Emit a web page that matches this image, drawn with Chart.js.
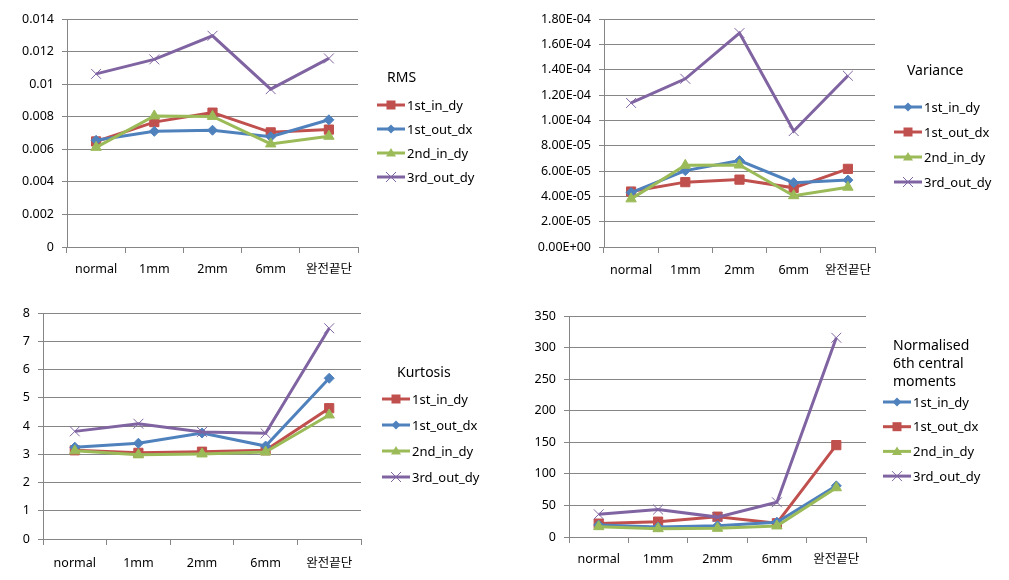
<!DOCTYPE html>
<html>
<head>
<meta charset="utf-8">
<script src="https://cdn.jsdelivr.net/npm/chart.js@4.4.1/dist/chart.umd.min.js"></script>
<style>
  body { margin: 0; background: #fff; }
  #wrap { position: relative; width: 1009px; height: 580px; }
  .box { position: absolute; }
</style>
</head>
<body>
<div id="wrap">
  <div class="box" style="left:0;top:0;width:500px;height:290px"><canvas id="c1"></canvas></div>
  <div class="box" style="left:500px;top:0;width:509px;height:290px"><canvas id="c2"></canvas></div>
  <div class="box" style="left:0;top:290px;width:500px;height:290px"><canvas id="c3"></canvas></div>
  <div class="box" style="left:500px;top:290px;width:509px;height:290px"><canvas id="c4"></canvas></div>
</div>
<script>
const categories = ['normal', '1mm', '2mm', '6mm', '완전끝단'];
const seriesNames = ['1st_in_dy', '1st_out_dx', '2nd_in_dy', '3rd_out_dy'];

// RMS
const rms1stInDy  = [0.00648, 0.00767, 0.00825, 0.00704, 0.00721];
const rms1stOutDx = [0.00655, 0.00710, 0.00717, 0.00677, 0.00781];
const rms2ndInDy  = [0.00612, 0.00805, 0.00802, 0.00633, 0.00680];
const rms3rdOutDy = [0.01063, 0.01152, 0.01297, 0.00969, 0.01158];

// Variance
const var1stInDy  = [4.30e-5, 6.03e-5, 6.82e-5, 5.08e-5, 5.28e-5];
const var1stOutDx = [4.38e-5, 5.12e-5, 5.32e-5, 4.67e-5, 6.17e-5];
const var2ndInDy  = [3.80e-5, 6.45e-5, 6.47e-5, 4.05e-5, 4.72e-5];
const var3rdOutDy = [1.137e-4, 1.328e-4, 1.689e-4, 9.15e-5, 1.352e-4];

// Kurtosis
const kur1stInDy  = [3.14, 3.05, 3.09, 3.14, 4.63];
const kur1stOutDx = [3.25, 3.39, 3.75, 3.29, 5.69];
const kur2ndInDy  = [3.12, 2.98, 3.01, 3.08, 4.39];
const kur3rdOutDy = [3.81, 4.08, 3.79, 3.74, 7.46];

// Normalised 6th central moments
const m61stInDy  = [19.0, 15.8, 17.8, 23.5, 81.0];
const m61stOutDx = [21.2, 24.3, 32.2, 21.8, 145.5];
const m62ndInDy  = [16.4, 13.2, 13.8, 17.5, 78.0];
const m63rdOutDy = [36.0, 43.5, 31.5, 55.0, 315.5];

const RED = '#C0504D', BLUE = '#4F81BD', GREEN = '#9BBB59', PURPLE = '#8064A2';
const GRID = '#868686';
const FONT = '"Noto Sans", "Noto Sans CJK KR", sans-serif';

// legend marker sizes and draw order (lower order = drawn on top)
const styles = {
  red:    { color: RED,    marker: 'square',   size: 4.5, order: 3, pointStyle: 'rect',     radius: 6.5 },
  blue:   { color: BLUE,   marker: 'diamond',  size: 4.5, order: 2, pointStyle: 'rectRot',  radius: 5 },
  green:  { color: GREEN,  marker: 'triangle', size: 5,   order: 1, pointStyle: 'triangle', radius: 6 },
  purple: { color: PURPLE, marker: 'cross',    size: 5,   order: 0, pointStyle: 'crossRot', radius: 7 }
};

function makeDataset(label, data, key) {
  const s = styles[key];
  return {
    label: label,
    data: data,
    borderColor: s.color,
    backgroundColor: s.color,
    borderWidth: 3,
    pointStyle: s.pointStyle,
    pointRadius: s.radius,
    pointBorderWidth: 1,
    pointBorderColor: s.color,
    pointBackgroundColor: s.color,
    tension: 0,
    order: s.order,
    legendKey: key
  };
}

function drawMarker(ctx, key, x, y) {
  const s = styles[key];
  ctx.fillStyle = s.color;
  ctx.strokeStyle = s.color;
  const r = s.size;
  ctx.beginPath();
  if (s.marker === 'square') {
    ctx.fillRect(x - r, y - r, 2 * r, 2 * r);
  } else if (s.marker === 'diamond') {
    ctx.moveTo(x, y - r); ctx.lineTo(x + r, y); ctx.lineTo(x, y + r); ctx.lineTo(x - r, y);
    ctx.closePath(); ctx.fill();
  } else if (s.marker === 'triangle') {
    ctx.moveTo(x, y - r); ctx.lineTo(x + r, y + r * 0.7); ctx.lineTo(x - r, y + r * 0.7);
    ctx.closePath(); ctx.fill();
  } else {
    ctx.lineWidth = 1;
    ctx.moveTo(x - r, y - r); ctx.lineTo(x + r, y + r);
    ctx.moveTo(x + r, y - r); ctx.lineTo(x - r, y + r);
    ctx.stroke();
  }
}

const sideLegend = {
  id: 'sideLegend',
  afterDraw(chart, args, opts) {
    const ctx = chart.ctx;
    ctx.save();
    ctx.fillStyle = '#000';
    ctx.textBaseline = 'middle';
    ctx.textAlign = 'left';
    ctx.font = '14px ' + FONT;
    opts.title.forEach((t, i) => ctx.fillText(t, opts.titleX, opts.titleY + i * 18));
    chart.data.datasets.forEach((ds, i) => {
      const y = opts.y + i * opts.gap;
      ctx.strokeStyle = styles[ds.legendKey].color;
      ctx.lineWidth = 3;
      ctx.beginPath();
      ctx.moveTo(opts.x, y); ctx.lineTo(opts.x + 28, y);
      ctx.stroke();
      drawMarker(ctx, ds.legendKey, opts.x + 14, y);
      ctx.fillStyle = '#000';
      ctx.font = '13px ' + FONT;
      ctx.fillText(ds.label, opts.x + 30, y + 1);
    });
    ctx.restore();
  }
};

function sci(v) {
  if (v === 0) return '0.00E+00';
  let e = Math.floor(Math.log10(Math.abs(v)) + 1e-9);
  let m = v / Math.pow(10, e);
  return m.toFixed(2) + 'E' + (e < 0 ? '-' : '+') + String(Math.abs(e)).padStart(2, '0');
}

function makeChart(id, datasets, yOpts, layout, legend) {
  new Chart(document.getElementById(id), {
    type: 'line',
    data: { labels: categories, datasets: datasets },
    options: {
      responsive: true,
      maintainAspectRatio: false,
      animation: false,
      layout: { padding: layout.padding },
      plugins: {
        legend: { display: false },
        tooltip: { enabled: false },
        sideLegend: legend
      },
      scales: {
        x: {
          offset: true,
          grid: { offset: true, drawOnChartArea: false, drawTicks: true, tickLength: 6, color: GRID },
          border: { color: GRID },
          ticks: { color: '#000', font: { family: FONT, size: 12.5 }, padding: layout.xPad, maxRotation: 0 },
          afterFit: (s) => { s.height = 35; }
        },
        y: {
          min: yOpts.min,
          max: yOpts.max,
          grid: { color: GRID, tickLength: 5 },
          border: { color: GRID },
          ticks: {
            stepSize: yOpts.step,
            color: '#000',
            font: { family: FONT, size: 12.5 },
            padding: 8,
            callback: yOpts.fmt
          },
          afterFit: (s) => { s.width = layout.yWidth; }
        }
      }
    },
    plugins: [sideLegend]
  });
}

makeChart('c1', [
  makeDataset(seriesNames[0], rms1stInDy, 'red'),
  makeDataset(seriesNames[1], rms1stOutDx, 'blue'),
  makeDataset(seriesNames[2], rms2ndInDy, 'green'),
  makeDataset(seriesNames[3], rms3rdOutDy, 'purple')
], { min: 0, max: 0.014, step: 0.002, fmt: (v) => String(+v.toFixed(4)) },
  { yWidth: 60, xPad: 9, padding: { left: 7, top: 19, right: 142, bottom: 8 } },
  { title: ['RMS'], titleX: 387, titleY: 78, x: 377, y: 105, gap: 24 });

makeChart('c2', [
  makeDataset(seriesNames[0], var1stInDy, 'blue'),
  makeDataset(seriesNames[1], var1stOutDx, 'red'),
  makeDataset(seriesNames[2], var2ndInDy, 'green'),
  makeDataset(seriesNames[3], var3rdOutDy, 'purple')
], { min: 0, max: 1.8e-4, step: 2e-5, fmt: (v) => sci(v) },
  { yWidth: 90, xPad: 10, padding: { left: 14, top: 19, right: 134, bottom: 8 } },
  { title: ['Variance'], titleX: 407, titleY: 71, x: 394, y: 107, gap: 25 });

makeChart('c3', [
  makeDataset(seriesNames[0], kur1stInDy, 'red'),
  makeDataset(seriesNames[1], kur1stOutDx, 'blue'),
  makeDataset(seriesNames[2], kur2ndInDy, 'green'),
  makeDataset(seriesNames[3], kur3rdOutDy, 'purple')
], { min: 0, max: 8, step: 1, fmt: (v) => String(v) },
  { yWidth: 30, xPad: 11, padding: { left: 13, top: 23, right: 139, bottom: 6 } },
  { title: ['Kurtosis'], titleX: 397, titleY: 83, x: 382, y: 109, gap: 26 });

makeChart('c4', [
  makeDataset(seriesNames[0], m61stInDy, 'blue'),
  makeDataset(seriesNames[1], m61stOutDx, 'red'),
  makeDataset(seriesNames[2], m62ndInDy, 'green'),
  makeDataset(seriesNames[3], m63rdOutDy, 'purple')
], { min: 0, max: 350, step: 50, fmt: (v) => String(v) },
  { yWidth: 50, xPad: 9, padding: { left: 19, top: 26, right: 143, bottom: 8 } },
  { title: ['Normalised', '6th central', 'moments'], titleX: 393, titleY: 56, x: 383, y: 112, gap: 24.7 });
</script>
</body>
</html>
